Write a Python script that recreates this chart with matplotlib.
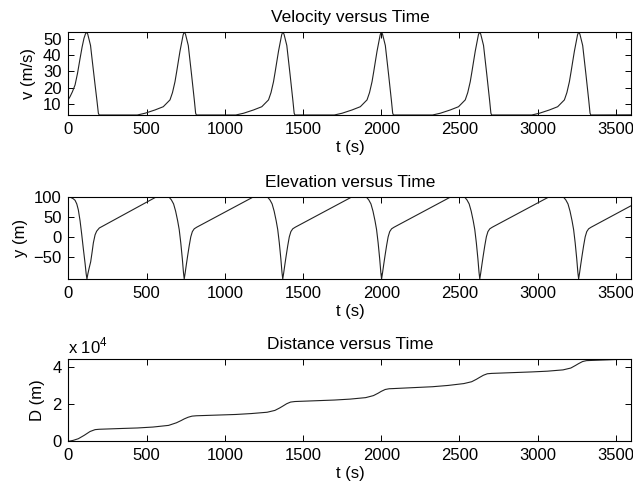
import matplotlib
matplotlib.use("Agg")
import matplotlib.pyplot as plt
from matplotlib.ticker import FuncFormatter

plt.rcParams["font.family"] = ["Liberation Sans", "DejaVu Sans"]
plt.rcParams["mathtext.fontset"] = "custom"
plt.rcParams["mathtext.rm"] = "Liberation Sans"
plt.rcParams["font.size"] = 12

# velocity (m/s)
t_v = [0, 10, 25, 42, 58, 74, 87, 99, 108, 115, 123, 141, 148, 160, 170, 182, 191, 196,
       440, 490, 553, 606, 649, 665, 681, 692, 702, 713, 724, 733, 740, 748, 766, 787, 805, 813, 818,
       1070, 1120, 1183, 1236, 1279, 1295, 1311, 1322, 1332, 1343, 1354, 1363, 1370, 1378, 1396, 1417, 1435, 1443, 1448,
       1700, 1750, 1813, 1866, 1909, 1925, 1941, 1952, 1962, 1973, 1984, 1993, 2000, 2008, 2026, 2047, 2065, 2073, 2078,
       2328, 2378, 2441, 2494, 2537, 2553, 2569, 2580, 2590, 2601, 2612, 2621, 2628, 2636, 2654, 2675, 2693, 2701, 2706,
       2962, 3012, 3075, 3128, 3171, 3187, 3203, 3214, 3224, 3235, 3246, 3255, 3262, 3270, 3288, 3309, 3327, 3335, 3340,
       3600]
v = [12.9, 14.5, 17.5, 21.7, 29, 38, 45, 50.4, 53, 54.3, 53, 46, 40, 30, 21.7, 12, 4.3, 3.2,
     3.2, 4.3, 6.3, 8.3, 12.5, 17, 23.7, 30, 36, 42.5, 48, 52.5, 54.3, 53, 46, 28, 12, 4.3, 3.2,
     3.2, 4.3, 6.3, 8.3, 12.5, 17, 23.7, 30, 36, 42.5, 48, 52.5, 54.3, 53, 46, 28, 12, 4.3, 3.2,
     3.2, 4.3, 6.3, 8.3, 12.5, 17, 23.7, 30, 36, 42.5, 48, 52.5, 54.3, 53, 46, 28, 12, 4.3, 3.2,
     3.2, 4.3, 6.3, 8.3, 12.5, 17, 23.7, 30, 36, 42.5, 48, 52.5, 54.3, 53, 46, 28, 12, 4.3, 3.2,
     3.2, 4.3, 6.3, 8.3, 12.5, 17, 23.7, 30, 36, 42.5, 48, 52.5, 54.3, 53, 46, 28, 12, 4.3, 3.2,
     3.3]

# elevation (m), middle panel
t_y = [0, 15, 30, 42, 53, 63, 74, 84, 95, 106, 113, 118, 124, 132, 142, 151, 159, 170, 180, 197, 564,
       635, 645, 658, 672, 685, 698, 708, 718, 728, 735, 740, 746, 754, 762, 772, 782, 792, 804, 820, 1185,
       1265, 1275, 1288, 1302, 1315, 1328, 1338, 1348, 1358, 1365, 1370, 1376, 1384, 1392, 1402, 1412, 1422, 1434, 1450, 1815,
       1897, 1907, 1920, 1934, 1947, 1960, 1970, 1980, 1990, 1997, 2002, 2008, 2016, 2024, 2034, 2044, 2054, 2066, 2082, 2447,
       2525, 2535, 2548, 2562, 2575, 2588, 2598, 2608, 2618, 2625, 2630, 2636, 2644, 2652, 2662, 2672, 2682, 2694, 2710, 3075,
       3157, 3167, 3180, 3194, 3207, 3220, 3230, 3240, 3250, 3257, 3262, 3268, 3276, 3284, 3294, 3304, 3314, 3326, 3342,
       3600]
y = [100, 98, 95, 91, 82, 67, 40, 8, -30, -66, -92, -105, -92, -78, -62, -38, -15, 5, 14, 22, 100,
     100, 98, 92, 82, 64, 40, 18, -15, -55, -88, -105, -90, -68, -47, -22, 0, 13, 20, 24, 100,
     100, 98, 92, 82, 64, 40, 18, -15, -55, -88, -105, -90, -68, -47, -22, 0, 13, 20, 24, 100,
     100, 98, 92, 82, 64, 40, 18, -15, -55, -88, -105, -90, -68, -47, -22, 0, 13, 20, 24, 100,
     100, 98, 92, 82, 64, 40, 18, -15, -55, -88, -105, -90, -68, -47, -22, 0, 13, 20, 24, 100,
     100, 98, 92, 82, 64, 40, 18, -15, -55, -88, -105, -90, -68, -47, -22, 0, 13, 20, 24,
     78]

# distance (m), bottom panel
t_d = [0, 30, 63, 100, 138, 170, 196, 330, 440, 540, 640, 690, 720, 740, 765, 790, 818,
       1070, 1170, 1270, 1320, 1350, 1370, 1395, 1420, 1448,
       1700, 1800, 1900, 1950, 1980, 2000, 2025, 2050, 2078,
       2328, 2428, 2528, 2578, 2608, 2628, 2653, 2678, 2706,
       2962, 3062, 3162, 3212, 3242, 3262, 3287, 3312, 3340, 3600]
D = [0, 500, 1400, 3200, 5300, 6300, 6500, 6900, 7200, 7700, 8600, 10000, 11200, 12100, 13000, 13600, 13800,
     14500, 15000, 15700, 16700, 18000, 19000, 20300, 21200, 21500,
     22300, 22800, 23600, 24700, 26000, 27000, 28000, 28400, 28500,
     29500, 30200, 31200, 32200, 33500, 34500, 35700, 36500, 36700,
     37500, 37900, 38600, 39600, 41000, 42000, 43100, 43600, 43700, 44500]

x_ticks = [0, 500, 1000, 1500, 2000, 2500, 3000, 3500]

fig = plt.figure(figsize=(6.33, 4.9), dpi=100)
left, width = 0.1082, 0.8894
ax1 = fig.add_axes([left, 0.7653, width, 0.1694])
ax2 = fig.add_axes([left, 0.4306, width, 0.1680])
ax3 = fig.add_axes([left, 0.0994, width, 0.1680])

line_kw = dict(color="#222222", lw=0.8)
title_size = 12.5

ax1.plot(t_v, v, **line_kw)
ax1.set_ylim(min(v), max(v))
ax1.set_yticks([10, 20, 30, 40, 50])
ax1.set_title("Velocity versus Time", pad=7, fontsize=title_size)
ax1.set_ylabel("v (m/s)", labelpad=5)

ax2.plot(t_y, y, **line_kw)
ax2.set_ylim(min(y), max(y))
ax2.set_yticks([-50, 0, 50, 100])
ax2.set_title("Elevation versus Time", pad=7, fontsize=title_size)
ax2.set_ylabel("y (m)", labelpad=4)

ax3.plot(t_d, D, **line_kw)
ax3.set_ylim(0, max(D))
ax3.set_yticks([0, 20000, 40000])
ax3.yaxis.set_major_formatter(FuncFormatter(lambda val, pos: f"{val / 1e4:g}"))
ax3.set_title("Distance versus Time", pad=7, fontsize=title_size)
ax3.set_ylabel("D (m)", labelpad=5)
ax3.text(0, 1.03, r"x 10$^{4}$", transform=ax3.transAxes, ha="left", va="bottom", fontsize=12)

for ax in (ax1, ax2, ax3):
    ax.set_xlim(0, 3600)
    ax.set_xticks(x_ticks)
    ax.set_xlabel("t (s)", labelpad=2)
    ax.tick_params(direction="in", top=True, right=True, length=4, width=0.7, pad=5)
    for s in ax.spines.values():
        s.set_linewidth(0.8)

fig.savefig("out.png", dpi=100)
